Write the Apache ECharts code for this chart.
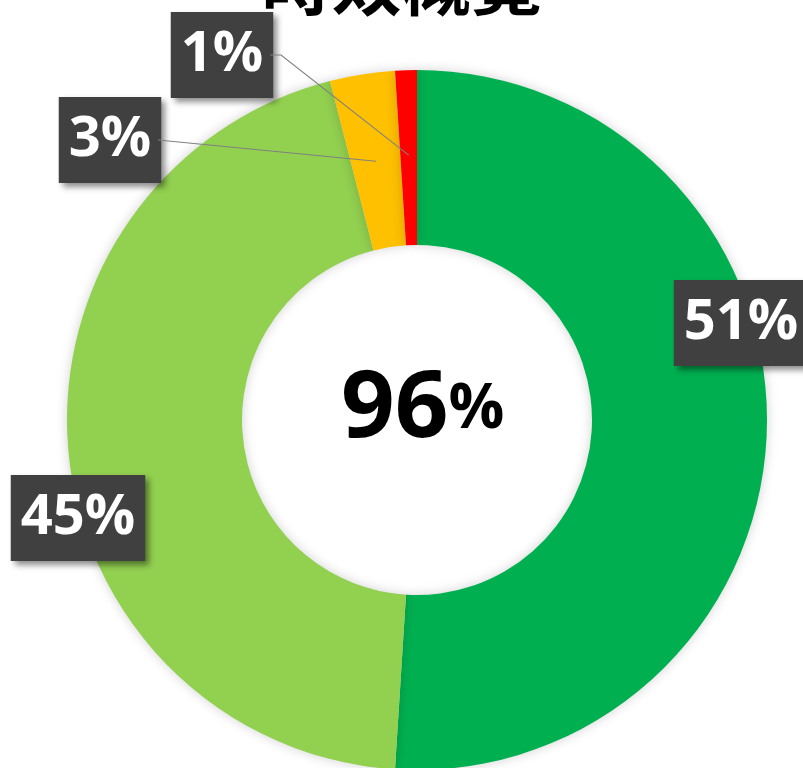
<!DOCTYPE html>
<html>
<head>
<meta charset="utf-8">
<style>
  html, body { margin: 0; padding: 0; background: #fff; }
  #chart { width: 803px; height: 768px; }
</style>
<script src="https://cdn.jsdelivr.net/npm/echarts@6/dist/echarts.min.js"></script>
</head>
<body>
<div id="chart"></div>
<script>
// chart data
const categories = ['A', 'B', 'C', 'D'];
const values = [51, 45, 3, 1];
const centerValue = 96;
const titleText = '時效概覽';

// look
const colors = ['#00B050', '#92D050', '#FFC000', '#FF0000'];
const pieCenter = [417, 420];
const pieRadius = [175, 350];
// label box centres, in px
const labelPos = [[741, 323], [78, 518], [110, 140], [222, 55]];
const labelHalfW = [0, 0, 48, 48];
const showLine = [false, false, true, true];
const lineRadius = [0, 0, 262, 265];

const total = values.reduce((a, b) => a + b, 0);

function midAngle(i) {
  // clockwise from 12 o'clock, in radians
  let before = 0;
  for (let k = 0; k < i; k++) before += values[k];
  return (before + values[i] / 2) / total * Math.PI * 2;
}

// leader lines for the small slices
const leaders = [];
values.forEach((v, i) => {
  if (!showLine[i]) return;
  const a = midAngle(i);
  const inner = [pieCenter[0] + Math.sin(a) * lineRadius[i], pieCenter[1] - Math.cos(a) * lineRadius[i]];
  const edge = [labelPos[i][0] + labelHalfW[i], labelPos[i][1]];
  const elbow = [edge[0] + (i === 3 ? 11 : 0), edge[1]];
  leaders.push({
    type: 'polyline',
    z: 10,
    silent: true,
    shape: { points: [edge, elbow, inner] },
    style: { stroke: '#808080', lineWidth: 1.2, fill: null }
  });
});

const chart = echarts.init(document.getElementById('chart'));

const option = {
  animation: false,
  title: [
    {
      text: titleText,
      left: 'center',
      top: -57,
      textStyle: {
        fontFamily: 'Noto Sans CJK TC',
        fontSize: 70,
        fontWeight: 'bold',
        color: '#000'
      }
    },
    {
      text: '{a|' + centerValue + '}{b|%}',
      left: 336,
      top: 350,
      textStyle: {
        rich: {
          a: { fontFamily: 'Open Sans', fontWeight: 'bold', fontSize: 94, color: '#000', lineHeight: 110 },
          b: { fontFamily: 'Open Sans', fontWeight: 'bold', fontSize: 62, color: '#000', lineHeight: 110 }
        }
      }
    }
  ],
  graphic: leaders,
  series: [
    {
      type: 'pie',
      center: pieCenter,
      radius: pieRadius,
      startAngle: 90,
      clockwise: true,
      itemStyle: {
        shadowBlur: 12,
        shadowColor: 'rgba(0,0,0,0.18)'
      },
      label: {
        show: true,
        position: 'inside',
        overflow: 'none',
        formatter: p => p.value + '%',
        fontFamily: 'Open Sans',
        fontWeight: 'bold',
        fontSize: 56,
        color: '#fff',
        backgroundColor: '#404040',
        padding: [6, 10, 4, 10],
        lineHeight: 76,
        shadowBlur: 6,
        shadowOffsetX: 4,
        shadowOffsetY: 4,
        shadowColor: 'rgba(0,0,0,0.45)'
      },
      labelLine: { show: false },
      labelLayout: function (params) {
        const pos = labelPos[params.dataIndex];
        return { x: pos[0], y: pos[1], align: 'center', verticalAlign: 'middle' };
      },
      data: categories.map((c, i) => ({
        name: c,
        value: values[i],
        itemStyle: { color: colors[i] }
      }))
    }
  ]
};

chart.setOption(option);
</script>
</body>
</html>
